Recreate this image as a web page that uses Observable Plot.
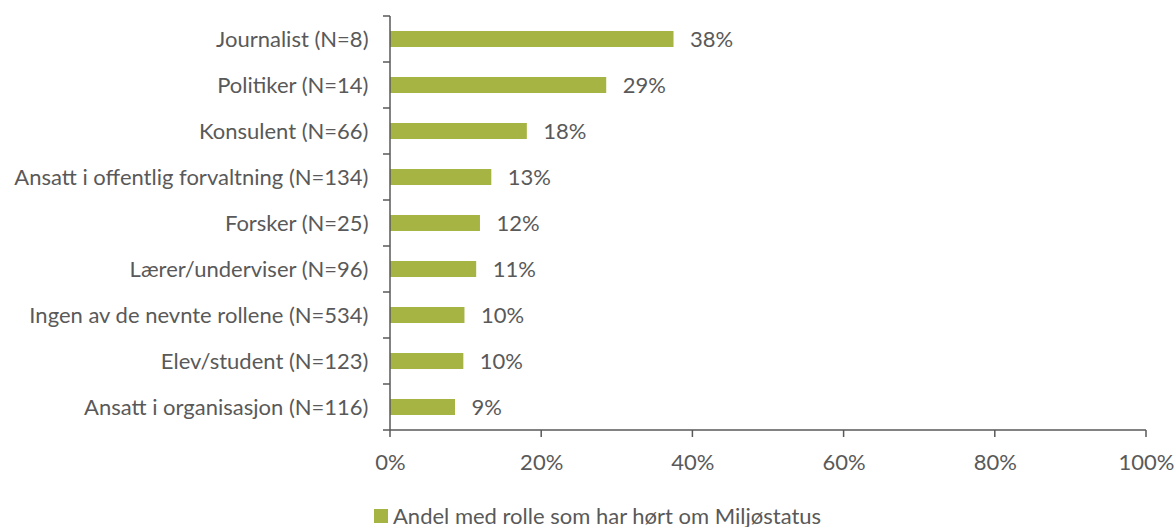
<!DOCTYPE html>
<html>
<head>
<meta charset="utf-8">
<script src="https://cdn.jsdelivr.net/npm/d3@7"></script>
<script src="https://cdn.jsdelivr.net/npm/@observablehq/plot@0.6"></script>
<style>
  html, body { margin: 0; padding: 0; background: #fff; }
  body { width: 1176px; height: 527px; overflow: hidden; font-family: Lato, "Open Sans", sans-serif; color: #595959; }
  #legend { margin-top: 5px; margin-left: 374px; height: 22px; line-height: 22px; font-size: 22px; display: flex; align-items: center; }
  #legend .sw { width: 14px; height: 14px; background: #A6B443; margin-right: 5px; }
</style>
</head>
<body>
<div id="chart"></div>
<div id="legend"><span class="sw"></span><span>Andel med rolle som har hørt om Miljøstatus</span></div>
<script>
const categories = [
  "Journalist (N=8)",
  "Politiker (N=14)",
  "Konsulent (N=66)",
  "Ansatt i offentlig forvaltning (N=134)",
  "Forsker (N=25)",
  "Lærer/underviser (N=96)",
  "Ingen av de nevnte rollene (N=534)",
  "Elev/student (N=123)",
  "Ansatt i organisasjon (N=116)"
];
const values = [37.5, 28.6, 18.1, 13.4, 11.9, 11.4, 9.85, 9.7, 8.6];
const valueLabels = ["38%", "29%", "18%", "13%", "12%", "11%", "10%", "10%", "9%"];
const xTicks = [0, 20, 40, 60, 80, 100];
const xTickLabels = ["0%", "20%", "40%", "60%", "80%", "100%"];
const seriesName = "Andel med rolle som har hørt om Miljøstatus";

const data = categories.map((c, i) => ({category: c, value: values[i], label: valueLabels[i]}));
const barColor = "#A6B443";
const axisColor = "#595959";
const fs = 22;

const axisFrame = (index, scales) => {
  const x = scales.x, y = scales.y;
  const step = y.step ? y.step() : 46.33;
  const bw = y.bandwidth ? y.bandwidth() : step * 0.35;
  const pad = (step - bw) / 2;
  const g = d3.create("svg:g").attr("stroke", axisColor).attr("stroke-width", 1.5).attr("fill", "none");
  const x0 = x(0);
  const top = y(categories[0]) - pad;
  const bottom = y(categories[categories.length - 1]) + bw + pad;
  g.append("line").attr("x1", x0).attr("x2", x0).attr("y1", top).attr("y2", bottom);
  g.append("line").attr("x1", x0 - 7).attr("x2", x(100)).attr("y1", bottom).attr("y2", bottom);
  categories.forEach(c => {
    const yy = y(c) - pad;
    g.append("line").attr("x1", x0 - 7).attr("x2", x0).attr("y1", yy).attr("y2", yy);
  });
  xTicks.forEach(t => {
    g.append("line").attr("x1", x(t)).attr("x2", x(t)).attr("y1", bottom).attr("y2", bottom + 7);
  });
  return g.node();
};

const chart = Plot.plot({
  width: 1176,
  height: 500,
  marginLeft: 390,
  marginRight: 30,
  marginTop: 15,
  marginBottom: 68,
  style: {fontFamily: "Lato, 'Open Sans', sans-serif", fontSize: fs + "px", color: axisColor, background: "#fff"},
  x: {domain: [0, 100]},
  y: {domain: categories, paddingInner: 0.65, paddingOuter: 0.325},
  marks: [
    Plot.barX(data, {x: "value", y: "category", fill: barColor}),
    Plot.text(data, {x: "value", y: "category", text: "label", textAnchor: "start", dx: 16, fill: axisColor, fontSize: fs}),
    Plot.axisY({tickSize: 0, tickPadding: 22, fill: axisColor, fontSize: fs, label: null}),
    Plot.axisX({ticks: xTicks, tickFormat: (d) => xTickLabels[xTicks.indexOf(d)], tickSize: 0, tickPadding: 22, fill: axisColor, fontSize: fs, label: null}),
    axisFrame
  ]
});
document.getElementById("chart").appendChild(chart);
</script>
</body>
</html>
